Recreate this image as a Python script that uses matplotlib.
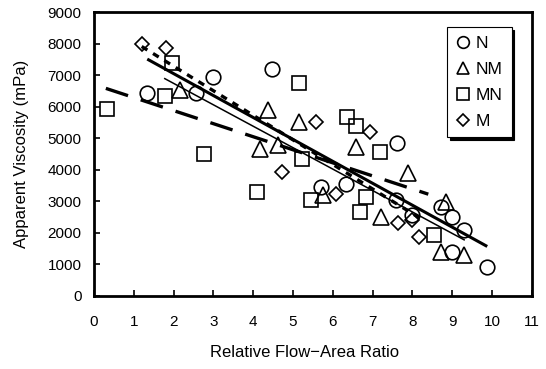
import numpy as np
import matplotlib
matplotlib.use('Agg')
import matplotlib.pyplot as plt

plt.rcParams['font.family'] = ['Liberation Sans', 'DejaVu Sans']

# N (circles)
n_x = [1.34, 2.56, 2.99, 4.48, 5.71, 6.33, 7.61, 7.58, 8.0, 8.71, 8.99, 9.30, 9.0, 9.88]
n_y = [6440, 6420, 6950, 7210, 3450, 3540, 4830, 3030, 2550, 2820, 2480, 2080, 1390, 910]
# NM (triangles)
nm_x = [2.16, 4.37, 5.14, 4.16, 4.62, 6.58, 7.88, 5.75, 7.21, 8.84, 8.71, 9.30]
nm_y = [6540, 5890, 5520, 4640, 4780, 4720, 3880, 3190, 2480, 2980, 1390, 1290]
# MN (squares)
mn_x = [1.97, 1.78, 0.33, 5.14, 2.76, 5.22, 4.09, 5.46, 6.35, 6.58, 7.19, 6.83, 6.68, 8.55]
mn_y = [7400, 6330, 5910, 6760, 4490, 4330, 3280, 3030, 5680, 5380, 4560, 3120, 2660, 1920]
# M (diamonds)
m_x = [1.20, 1.80, 5.58, 6.94, 4.73, 6.08, 7.63, 8.0, 8.17]
m_y = [8000, 7850, 5520, 5200, 3930, 3220, 2290, 2400, 1850]

# trend lines (end points)
fit_n_x, fit_n_y = [1.34, 9.88], [7510, 1560]
fit_all_x, fit_all_y = [1.78, 9.30], [6890, 1770]
fit_mn_x, fit_mn_y = [0.30, 8.40], [6580, 3220]
fit_m_x, fit_m_y = [1.20, 8.20], [7910, 2450]

fig = plt.figure(figsize=(5.46, 3.69), dpi=100)
ax = fig.add_axes([0.172, 0.199, 0.802, 0.768])

mk = dict(linestyle='none', mfc='none', mec='k', mew=1.2)
ax.plot(n_x, n_y, marker='o', ms=10.5, label='N', **mk)
ax.plot(nm_x, nm_y, marker='^', ms=11, label='NM', **mk)
ax.plot(mn_x, mn_y, marker='s', ms=10.5, label='MN', **mk)
ax.plot(m_x, m_y, marker='D', ms=7.3, label='M', **mk)

ax.plot(fit_n_x, fit_n_y, color='k', lw=2.2, solid_capstyle='butt')
ax.plot(fit_all_x, fit_all_y, color='k', lw=1.1)
ax.plot(fit_mn_x, fit_mn_y, color='k', lw=2.4, dashes=(7, 4))
ax.plot(fit_m_x, fit_m_y, color='k', lw=2.4, dashes=(2, 2))

ax.set_xlim(0, 11)
ax.set_ylim(0, 9000)
ax.set_xticks(range(0, 12))
ax.set_yticks(range(0, 9001, 1000))
ax.tick_params(direction='in', length=4, width=1.2, labelsize=11, top=False, right=False)
ax.tick_params(axis='x', pad=14)
ax.tick_params(axis='y', pad=9)
for s in ax.spines.values():
    s.set_linewidth(2)

ax.set_xlabel('Relative Flow\u2212Area Ratio', fontsize=12, labelpad=14)
ax.xaxis.set_label_coords(0.48, -0.2)
ax.xaxis.label.set_va('center')
ax.set_ylabel('Apparent Viscosity (mPa)', fontsize=12, labelpad=13)

leg = ax.legend(loc='upper right', bbox_to_anchor=(0.954, 0.947), borderaxespad=0,
                fontsize=12.5, frameon=True, fancybox=False, framealpha=1, edgecolor='k',
                shadow={'color': 'black', 'alpha': 1}, handlelength=0.8,
                handletextpad=0.35, labelspacing=0.62, borderpad=0.5, markerscale=0.8)
leg.get_frame().set_linewidth(0.8)

fig.savefig('out.png', dpi=100)
